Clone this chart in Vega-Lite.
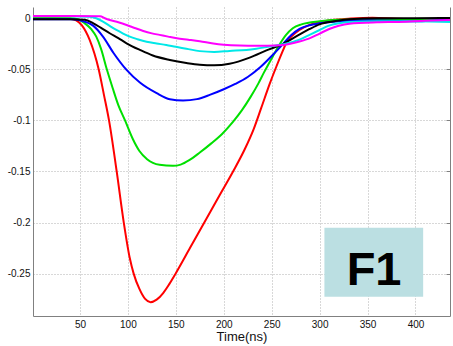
{
  "$schema": "https://vega.github.io/schema/vega-lite/v6.json",
  "width": 417,
  "height": 309,
  "autosize": {"type": "none"},
  "padding": {"left": 33, "top": 7, "right": 3, "bottom": 30},
  "background": "white",
  "config": {
    "view": {"stroke": null},
    "font": "Liberation Sans",
    "axis": {
      "domainColor": "#808080",
      "domainWidth": 1,
      "gridColor": "#b0b0b0",
      "gridDash": [1, 2],
      "gridWidth": 1,
      "labelColor": "#111111",
      "labelFont": "Liberation Sans",
      "labelFontSize": 10,
      "labelPadding": 3,
      "ticks": false,
      "titleFont": "Liberation Sans",
      "titleFontWeight": "normal",
      "titleColor": "#111111"
    }
  },
  "datasets": {
    "curves": [
      {"t": 1, "v": 0, "s": "r"}, {"t": 20, "v": 0, "s": "r"}, {"t": 40, "v": -0.0005, "s": "r"}, {"t": 46, "v": -0.002, "s": "r"}, {"t": 52, "v": -0.007, "s": "r"}, {"t": 60, "v": -0.021, "s": "r"}, {"t": 69.5, "v": -0.05, "s": "r"}, {"t": 75, "v": -0.075, "s": "r"}, {"t": 80.3, "v": -0.1, "s": "r"}, {"t": 88.3, "v": -0.15, "s": "r"}, {"t": 95.7, "v": -0.2, "s": "r"}, {"t": 102, "v": -0.235, "s": "r"}, {"t": 106, "v": -0.25, "s": "r"}, {"t": 112, "v": -0.265, "s": "r"}, {"t": 118, "v": -0.2748, "s": "r"}, {"t": 123.6, "v": -0.278, "s": "r"}, {"t": 130, "v": -0.2755, "s": "r"}, {"t": 136.8, "v": -0.269, "s": "r"}, {"t": 143, "v": -0.2605, "s": "r"}, {"t": 150, "v": -0.2496, "s": "r"}, {"t": 165, "v": -0.2245, "s": "r"}, {"t": 180, "v": -0.1995, "s": "r"}, {"t": 195.8, "v": -0.173, "s": "r"}, {"t": 209.7, "v": -0.15, "s": "r"}, {"t": 222, "v": -0.128, "s": "r"}, {"t": 231, "v": -0.109, "s": "r"}, {"t": 239, "v": -0.088, "s": "r"}, {"t": 248, "v": -0.064, "s": "r"}, {"t": 255, "v": -0.047, "s": "r"}, {"t": 262, "v": -0.031, "s": "r"}, {"t": 265, "v": -0.0245, "s": "r"}, {"t": 270.5, "v": -0.018, "s": "r"}, {"t": 279, "v": -0.0115, "s": "r"}, {"t": 289.6, "v": -0.0065, "s": "r"}, {"t": 300, "v": -0.004, "s": "r"}, {"t": 315, "v": -0.0015, "s": "r"}, {"t": 330, "v": -0.0005, "s": "r"}, {"t": 355, "v": 0.0005, "s": "r"}, {"t": 380, "v": -0.0005, "s": "r"}, {"t": 410, "v": -0.001, "s": "r"}, {"t": 436, "v": -0.001, "s": "r"},

      {"t": 1, "v": 0, "s": "g"}, {"t": 40, "v": 0, "s": "g"}, {"t": 48, "v": -0.001, "s": "g"}, {"t": 55, "v": -0.005, "s": "g"}, {"t": 62, "v": -0.011, "s": "g"}, {"t": 67, "v": -0.018, "s": "g"}, {"t": 72, "v": -0.03, "s": "g"}, {"t": 78, "v": -0.05, "s": "g"}, {"t": 84, "v": -0.068, "s": "g"}, {"t": 90, "v": -0.085, "s": "g"}, {"t": 97, "v": -0.1, "s": "g"}, {"t": 105, "v": -0.118, "s": "g"}, {"t": 112, "v": -0.13, "s": "g"}, {"t": 120, "v": -0.138, "s": "g"}, {"t": 133, "v": -0.1435, "s": "g"}, {"t": 147, "v": -0.1445, "s": "g"}, {"t": 155, "v": -0.1433, "s": "g"}, {"t": 164, "v": -0.139, "s": "g"}, {"t": 175, "v": -0.1315, "s": "g"}, {"t": 187, "v": -0.1225, "s": "g"}, {"t": 198, "v": -0.1135, "s": "g"}, {"t": 210, "v": -0.101, "s": "g"}, {"t": 219, "v": -0.09, "s": "g"}, {"t": 228, "v": -0.077, "s": "g"}, {"t": 236, "v": -0.064, "s": "g"}, {"t": 242, "v": -0.053, "s": "g"}, {"t": 251, "v": -0.0376, "s": "g"}, {"t": 258, "v": -0.026, "s": "g"}, {"t": 265, "v": -0.0163, "s": "g"}, {"t": 272, "v": -0.0098, "s": "g"}, {"t": 281, "v": -0.006, "s": "g"}, {"t": 300, "v": -0.003, "s": "g"}, {"t": 320, "v": -0.0015, "s": "g"}, {"t": 350, "v": -0.001, "s": "g"}, {"t": 400, "v": -0.001, "s": "g"}, {"t": 436, "v": -0.0005, "s": "g"},

      {"t": 1, "v": -0.001, "s": "b"}, {"t": 40, "v": -0.001, "s": "b"}, {"t": 50, "v": -0.002, "s": "b"}, {"t": 57, "v": -0.004, "s": "b"}, {"t": 64, "v": -0.0075, "s": "b"}, {"t": 74, "v": -0.018, "s": "b"}, {"t": 85, "v": -0.034, "s": "b"}, {"t": 98.6, "v": -0.0506, "s": "b"}, {"t": 112.5, "v": -0.063, "s": "b"}, {"t": 130, "v": -0.0734, "s": "b"}, {"t": 143.7, "v": -0.0793, "s": "b"}, {"t": 157.6, "v": -0.0806, "s": "b"}, {"t": 172, "v": -0.0792, "s": "b"}, {"t": 186, "v": -0.0748, "s": "b"}, {"t": 200, "v": -0.0695, "s": "b"}, {"t": 212, "v": -0.0643, "s": "b"}, {"t": 225, "v": -0.0575, "s": "b"}, {"t": 238, "v": -0.048, "s": "b"}, {"t": 251, "v": -0.036, "s": "b"}, {"t": 262, "v": -0.025, "s": "b"}, {"t": 270.5, "v": -0.0165, "s": "b"}, {"t": 279, "v": -0.0105, "s": "b"}, {"t": 289.6, "v": -0.0068, "s": "b"}, {"t": 300, "v": -0.005, "s": "b"}, {"t": 320, "v": -0.003, "s": "b"}, {"t": 350, "v": -0.002, "s": "b"}, {"t": 400, "v": -0.003, "s": "b"}, {"t": 436, "v": -0.001, "s": "b"},

      {"t": 1, "v": -0.001, "s": "k"}, {"t": 40, "v": -0.001, "s": "k"}, {"t": 55, "v": -0.0015, "s": "k"}, {"t": 64, "v": -0.005, "s": "k"}, {"t": 72, "v": -0.0095, "s": "k"}, {"t": 81, "v": -0.0147, "s": "k"}, {"t": 90, "v": -0.0195, "s": "k"}, {"t": 98.6, "v": -0.0245, "s": "k"}, {"t": 112.5, "v": -0.031, "s": "k"}, {"t": 126, "v": -0.0365, "s": "k"}, {"t": 143.7, "v": -0.0408, "s": "k"}, {"t": 161, "v": -0.0438, "s": "k"}, {"t": 175, "v": -0.0455, "s": "k"}, {"t": 190, "v": -0.046, "s": "k"}, {"t": 206, "v": -0.0445, "s": "k"}, {"t": 227, "v": -0.0385, "s": "k"}, {"t": 244.5, "v": -0.0315, "s": "k"}, {"t": 262, "v": -0.025, "s": "k"}, {"t": 276, "v": -0.0175, "s": "k"}, {"t": 289.6, "v": -0.0105, "s": "k"}, {"t": 300, "v": -0.006, "s": "k"}, {"t": 315, "v": -0.003, "s": "k"}, {"t": 331, "v": -0.001, "s": "k"}, {"t": 360, "v": 0, "s": "k"}, {"t": 400, "v": 0, "s": "k"}, {"t": 436, "v": 0.0003, "s": "k"},

      {"t": 1, "v": 0.002, "s": "c"}, {"t": 40, "v": 0.002, "s": "c"}, {"t": 60, "v": 0.0015, "s": "c"}, {"t": 67, "v": 0, "s": "c"}, {"t": 74, "v": -0.0033, "s": "c"}, {"t": 81, "v": -0.0075, "s": "c"}, {"t": 88, "v": -0.0115, "s": "c"}, {"t": 95, "v": -0.015, "s": "c"}, {"t": 102, "v": -0.018, "s": "c"}, {"t": 110, "v": -0.0205, "s": "c"}, {"t": 119.5, "v": -0.023, "s": "c"}, {"t": 130, "v": -0.0247, "s": "c"}, {"t": 140, "v": -0.0262, "s": "c"}, {"t": 150, "v": -0.028, "s": "c"}, {"t": 161, "v": -0.0298, "s": "c"}, {"t": 175, "v": -0.0322, "s": "c"}, {"t": 190, "v": -0.033, "s": "c"}, {"t": 206, "v": -0.032, "s": "c"}, {"t": 223.6, "v": -0.031, "s": "c"}, {"t": 234, "v": -0.0298, "s": "c"}, {"t": 246, "v": -0.028, "s": "c"}, {"t": 262, "v": -0.0255, "s": "c"}, {"t": 279, "v": -0.021, "s": "c"}, {"t": 290, "v": -0.016, "s": "c"}, {"t": 300, "v": -0.0115, "s": "c"}, {"t": 309, "v": -0.0075, "s": "c"}, {"t": 320, "v": -0.005, "s": "c"}, {"t": 331, "v": -0.0038, "s": "c"}, {"t": 360, "v": -0.003, "s": "c"}, {"t": 400, "v": -0.003, "s": "c"}, {"t": 436, "v": -0.0036, "s": "c"},

      {"t": 1, "v": 0.0022, "s": "m"}, {"t": 40, "v": 0.0022, "s": "m"}, {"t": 71, "v": 0.002, "s": "m"}, {"t": 76, "v": 0, "s": "m"}, {"t": 81, "v": -0.0017, "s": "m"}, {"t": 90, "v": -0.004, "s": "m"}, {"t": 98.6, "v": -0.0066, "s": "m"}, {"t": 107, "v": -0.0095, "s": "m"}, {"t": 116, "v": -0.0125, "s": "m"}, {"t": 125, "v": -0.0148, "s": "m"}, {"t": 133, "v": -0.0163, "s": "m"}, {"t": 142, "v": -0.018, "s": "m"}, {"t": 151, "v": -0.0196, "s": "m"}, {"t": 163, "v": -0.021, "s": "m"}, {"t": 175, "v": -0.0225, "s": "m"}, {"t": 189, "v": -0.0248, "s": "m"}, {"t": 200, "v": -0.026, "s": "m"}, {"t": 216.7, "v": -0.0268, "s": "m"}, {"t": 234, "v": -0.027, "s": "m"}, {"t": 246, "v": -0.027, "s": "m"}, {"t": 262, "v": -0.0262, "s": "m"}, {"t": 279, "v": -0.0228, "s": "m"}, {"t": 290, "v": -0.0195, "s": "m"}, {"t": 300, "v": -0.015, "s": "m"}, {"t": 310, "v": -0.0105, "s": "m"}, {"t": 320, "v": -0.0073, "s": "m"}, {"t": 331, "v": -0.0053, "s": "m"}, {"t": 360, "v": -0.004, "s": "m"}, {"t": 383, "v": -0.0036, "s": "m"}, {"t": 410, "v": -0.0025, "s": "m"}, {"t": 436, "v": -0.0017, "s": "m"}
    ],
    "box": [{"t1": 305, "t2": 408, "v1": -0.2052, "v2": -0.2727}],
    "label": [{"t": 356.8, "v": -0.261, "text": "F1"}]
  },
  "layer": [
    {
      "data": {"name": "curves"},
      "mark": {"type": "line", "strokeWidth": 2, "interpolate": "monotone", "clip": true},
      "encoding": {
        "x": {
          "field": "t", "type": "quantitative",
          "scale": {"domain": [1, 436], "nice": false, "zero": false},
          "axis": {"values": [50, 100, 150, 200, 250, 300, 350, 400], "title": "Time(ns)", "titleFontSize": 13, "titlePadding": 1, "labelFlush": false}
        },
        "y": {
          "field": "v", "type": "quantitative",
          "scale": {"domain": [-0.2915, 0.011], "nice": false, "zero": false},
          "axis": {"values": [-0.25, -0.2, -0.15, -0.1, -0.05, 0], "labelExpr": "'' + datum.value", "title": null, "labelFlush": false}
        },
        "color": {
          "field": "s", "type": "nominal",
          "scale": {"domain": ["r", "g", "b", "k", "c", "m"], "range": ["#ff0000", "#00e000", "#0000ff", "#000000", "#00e8e8", "#ff00ff"]},
          "legend": null
        }
      }
    },
    {
      "data": {"name": "box"},
      "mark": {"type": "rect", "color": "#bbdfe2"},
      "encoding": {
        "x": {"field": "t1", "type": "quantitative"},
        "x2": {"field": "t2"},
        "y": {"field": "v1", "type": "quantitative", "axis": {"orient": "right", "values": [-0.25, -0.2, -0.15, -0.1, -0.05, 0], "labels": false, "grid": false, "ticks": true, "tickSize": -4, "tickColor": "#808080", "title": null, "domain": true}},
        "y2": {"field": "v2"}
      }
    },
    {
      "data": {"name": "label"},
      "mark": {"type": "text", "font": "Liberation Sans", "fontWeight": "bold", "fontSize": 47, "color": "#000000", "align": "center", "baseline": "alphabetic"},
      "encoding": {
        "x": {"field": "t", "type": "quantitative"},
        "y": {"field": "v", "type": "quantitative", "axis": null},
        "text": {"field": "text"}
      }
    }
  ],
  "resolve": {"axis": {"y": "independent"}}
}
